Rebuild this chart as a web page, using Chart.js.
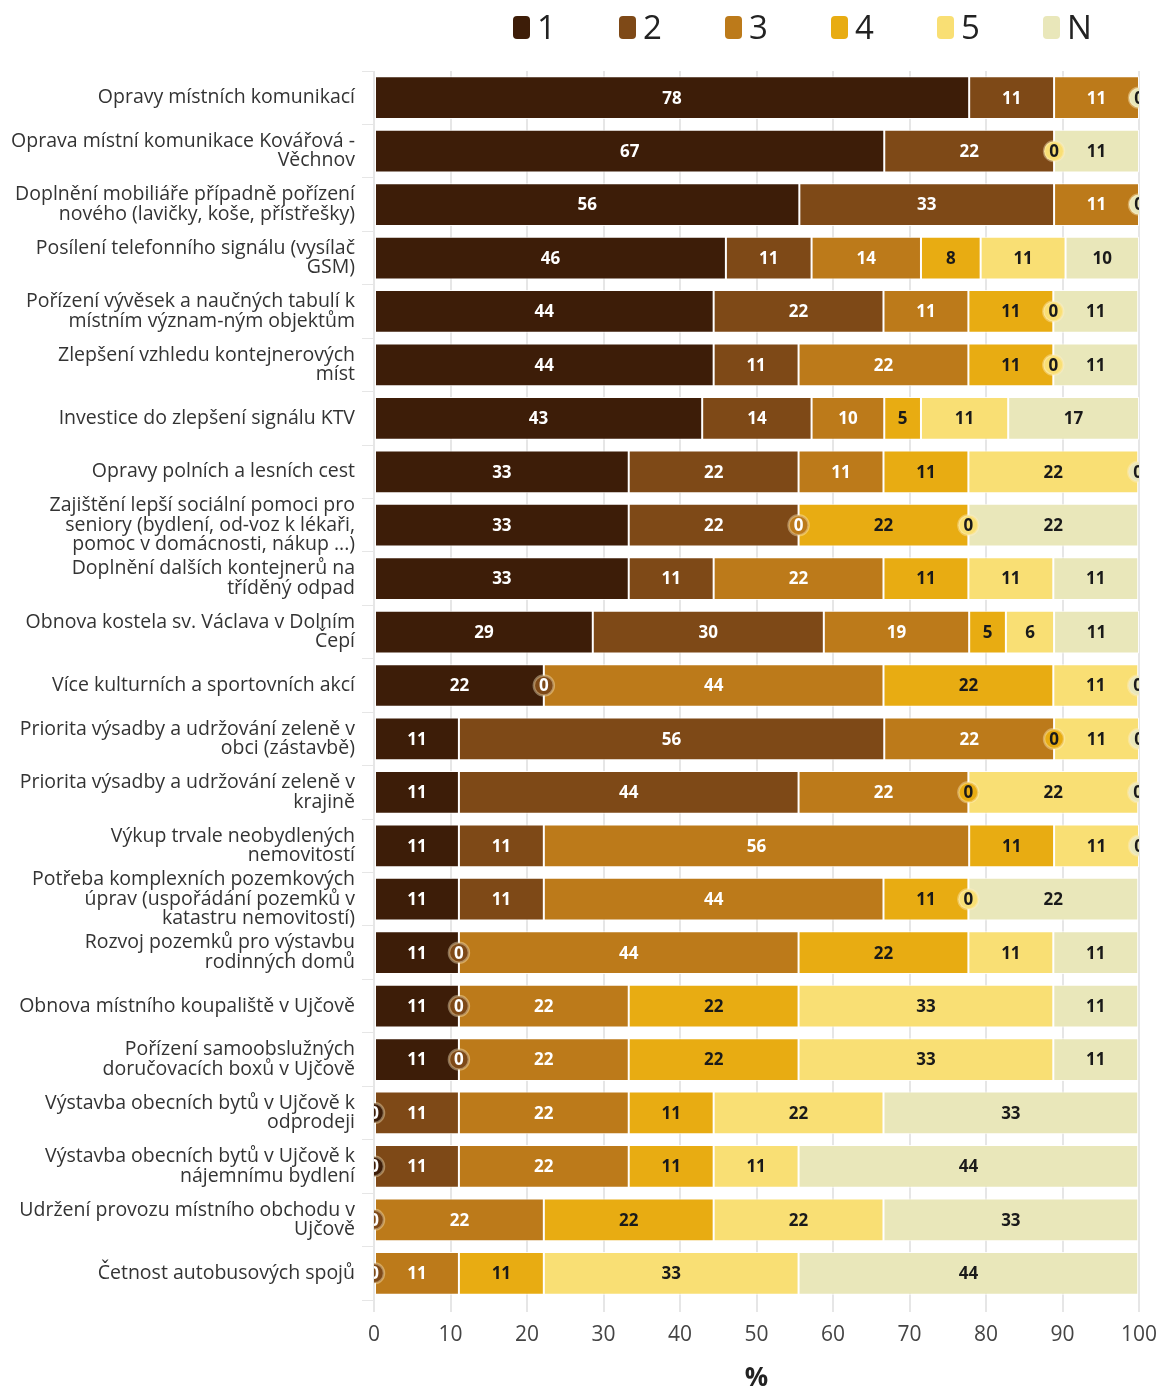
<!DOCTYPE html>
<html>
<head>
<meta charset="utf-8">
<script src="https://cdn.jsdelivr.net/npm/chart.js@4.4.1/dist/chart.umd.min.js"></script>
<style>
  body { margin: 0; background: #fff; }
  #wrap { width: 1164px; height: 1389px; position: relative; }
</style>
</head>
<body>
<div id="wrap"><canvas id="chart"></canvas></div>
<script>
// kategorie (osa Y)
const categories = [
  "Opravy místních komunikací",
  ["Oprava místní komunikace Kovářová -", "Věchnov"],
  ["Doplnění mobiliáře případně pořízení", "nového (lavičky, koše, přístřešky)"],
  ["Posílení telefonního signálu (vysílač", "GSM)"],
  ["Pořízení vývěsek a naučných tabulí k", "místním význam-ným objektům"],
  ["Zlepšení vzhledu kontejnerových", "míst"],
  "Investice do zlepšení signálu KTV",
  "Opravy polních a lesních cest",
  ["Zajištění lepší sociální pomoci pro", "seniory (bydlení, od-voz k lékaři,", "pomoc v domácnosti, nákup ...)"],
  ["Doplnění dalších kontejnerů na", "tříděný odpad"],
  ["Obnova kostela sv. Václava v Dolním", "Čepí"],
  "Více kulturních a sportovních akcí",
  ["Priorita výsadby a udržování zeleně v", "obci (zástavbě)"],
  ["Priorita výsadby a udržování zeleně v", "krajině"],
  ["Výkup trvale neobydlených", "nemovitostí"],
  ["Potřeba komplexních pozemkových", "úprav (uspořádání pozemků v", "katastru nemovitostí)"],
  ["Rozvoj pozemků pro výstavbu", "rodinných domů"],
  "Obnova místního koupaliště v Ujčově",
  ["Pořízení samoobslužných", "doručovacích boxů v Ujčově"],
  ["Výstavba obecních bytů v Ujčově k", "odprodeji"],
  ["Výstavba obecních bytů v Ujčově k", "nájemnímu bydlení"],
  ["Udržení provozu místního obchodu v", "Ujčově"],
  "Četnost autobusových spojů"
];

const seriesNames = ["1", "2", "3", "4", "5", "N"];

// hodnoty v %  (null = bez hodnoty)
const s1 = [77.8, 66.7, 55.6, 46.0, 44.4, 44.4, 42.9, 33.3, 33.3, 33.3, 28.6, 22.2, 11.1, 11.1, 11.1, 11.1, 11.1, 11.1, 11.1, 0, 0, null, null];
const s2 = [11.1, 22.2, 33.3, 11.2, 22.2, 11.1, 14.3, 22.2, 22.2, 11.1, 30.2, 0, 55.6, 44.4, 11.1, 11.1, 0, 0, 0, 11.1, 11.1, 0, 0];
const s3 = [11.1, null, 11.1, 14.3, 11.1, 22.2, 9.5, 11.1, 0, 22.2, 19.0, 44.4, 22.2, 22.2, 55.6, 44.4, 44.4, 22.2, 22.2, 22.2, 22.2, 22.2, 11.1];
const s4 = [null, null, null, 7.8, 11.1, 11.1, 4.8, 11.1, 22.2, 11.1, 4.8, 22.2, 0, 0, 11.1, 11.1, 22.2, 22.2, 22.2, 11.1, 11.1, 22.2, 11.1];
const s5 = [null, 0, null, 11.1, 0, 0, 11.4, 22.2, 0, 11.1, 6.3, 11.1, 11.1, 22.2, 11.1, 0, 11.1, 33.3, 33.3, 22.2, 11.1, 22.2, 33.3];
const sN = [0, 11.1, 0, 9.6, 11.1, 11.1, 17.1, 0, 22.2, 11.1, 11.1, 0, 0, 0, 0, 22.2, 11.1, 11.1, 11.1, 33.3, 44.4, 33.3, 44.4];

const xTicks = [0, 10, 20, 30, 40, 50, 60, 70, 80, 90, 100];

const colors = ["#3d1d08", "#7e4917", "#bc7a1a", "#e8ac12", "#f9df74", "#e9e7ba"];
const textColors = ["#ffffff", "#ffffff", "#ffffff", "#1a1a1a", "#1a1a1a", "#1a1a1a"];
const allSeries = [s1, s2, s3, s4, s5, sN];

const FONT = "'Open Sans', 'Noto Sans', sans-serif";

// popisky uvnitř pruhů (+ kolečka pro nuly)
const barLabels = {
  id: "barLabels",
  afterDatasetsDraw(chart) {
    const { ctx, chartArea } = chart;
    ctx.save();
    ctx.beginPath();
    ctx.rect(chartArea.left, chartArea.top, chartArea.right - chartArea.left, chartArea.bottom - chartArea.top);
    ctx.clip();
    ctx.textAlign = "center";
    ctx.textBaseline = "middle";
    ctx.font = "700 17px " + FONT;
    chart.data.datasets.forEach((ds, di) => {
      const meta = chart.getDatasetMeta(di);
      meta.data.forEach((bar, i) => {
        const v = ds.data[i];
        if (v === null || v === undefined) return;
        if (v === 0) {
          ctx.beginPath();
          ctx.arc(bar.x, bar.y, 10, 0, Math.PI * 2);
          ctx.fillStyle = colors[di];
          ctx.fill();
          ctx.lineWidth = 2.5;
          ctx.strokeStyle = "rgba(255,240,200,0.4)";
          ctx.stroke();
          ctx.fillStyle = textColors[di];
          ctx.fillText("0", bar.x, bar.y + 1);
        } else {
          ctx.fillStyle = textColors[di];
          ctx.fillText(String(Math.round(v)), (bar.x + bar.base) / 2, bar.y + 1);
        }
      });
    });
    ctx.restore();
  }
};

// legenda nahoře
const topLegend = {
  id: "topLegend",
  afterDraw(chart) {
    const { ctx } = chart;
    ctx.save();
    ctx.font = "33px " + FONT;
    ctx.textBaseline = "middle";
    ctx.textAlign = "left";
    seriesNames.forEach((name, i) => {
      const x = 513 + i * 106;
      ctx.beginPath();
      ctx.roundRect(x, 16, 17, 23, 4);
      ctx.fillStyle = colors[i];
      ctx.fill();
      ctx.fillStyle = "#222";
      ctx.fillText(name, x + 24, 30);
    });
    ctx.restore();
  }
};

new Chart(document.getElementById("chart"), {
  type: "bar",
  data: {
    labels: categories,
    datasets: seriesNames.map((name, i) => ({
      label: name,
      data: allSeries[i],
      backgroundColor: colors[i],
      borderColor: "rgba(255,255,255,0.85)",
      borderWidth: 1,
      borderSkipped: false,
      barPercentage: 0.8,
      categoryPercentage: 1.0
    }))
  },
  options: {
    indexAxis: "y",
    responsive: true,
    maintainAspectRatio: false,
    animation: false,
    layout: { padding: { top: 71, right: 25, bottom: 0, left: 0 } },
    plugins: {
      tooltip: { enabled: false },
      legend: { display: false }
    },
    scales: {
      x: {
        stacked: true,
        min: 0,
        max: 100,
        afterBuildTicks(scale) {
          scale.ticks = xTicks.map(v => ({ value: v }));
        },
        afterFit(scale) { scale.height = 89; scale.paddingRight = 0; scale.paddingLeft = 0; },
        grid: { color: "#e6e6e6", lineWidth: 2, tickLength: 12, drawTicks: true },
        border: { display: false },
        ticks: { color: "#444", font: { family: FONT, size: 21 }, padding: 10 },
        title: { display: true, text: "%", color: "#222", font: { family: FONT, size: 26, weight: "700", lineHeight: 0.8 }, padding: { top: 0, bottom: 0 } }
      },
      y: {
        stacked: true,
        afterFit(scale) { scale.width = 374; },
        grid: { drawOnChartArea: false, color: "#e6e6e6", tickLength: 12 },
        border: { display: false },
        ticks: { autoSkip: false, color: "#333", font: { family: FONT, size: 19.5, lineHeight: 1.0 }, padding: 7 }
      }
    }
  },
  plugins: [barLabels, topLegend]
});
</script>
</body>
</html>
